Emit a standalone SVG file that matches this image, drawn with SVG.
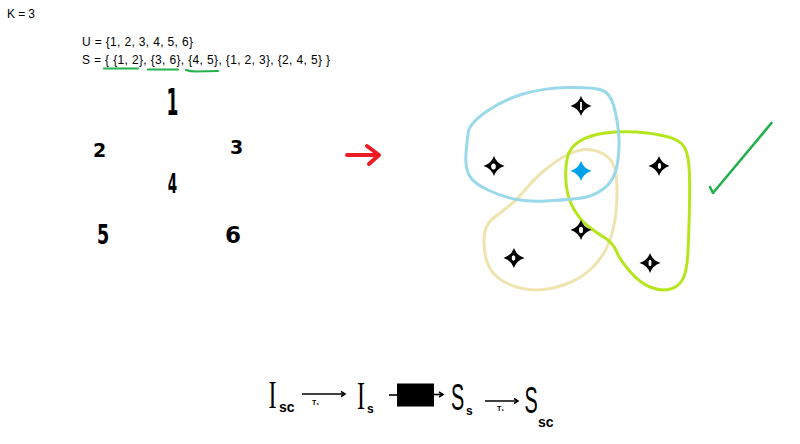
<svg xmlns="http://www.w3.org/2000/svg" xmlns:xlink="http://www.w3.org/1999/xlink" width="800" height="444" viewBox="0 0 800 444">
<style>
.t{font-family:"Liberation Sans",Arial,sans-serif;font-size:12px;fill:#000}
.hd{font-family:"DejaVu Sans",sans-serif;font-weight:bold;fill:#000;text-anchor:middle}
.ul{stroke:#22B14C;stroke-width:2.2;fill:none;stroke-linecap:round}
.loop{fill:none;stroke-width:3;stroke-linejoin:round}
.ln{stroke:#000;stroke-width:1.6;fill:none}
.sub{font-family:"Liberation Sans",Arial,sans-serif;font-weight:bold;fill:#000}
.big{font-family:"Liberation Serif","Times New Roman",serif;fill:#000;text-anchor:middle}
.ss{font-family:"Liberation Sans",Arial,sans-serif;fill:#000;text-anchor:middle}
.tl{font-family:"Liberation Sans",Arial,sans-serif;font-weight:bold;font-size:7px;fill:#000}
</style>
<defs>
<g id="star">
<path d="M0,-10 Q2.5,-2.5 10.5,0 Q2.5,2.5 0,10 Q-2.5,2.5 -10.5,0 Q-2.5,-2.5 0,-10 Z"/>
<circle r="5.2"/>
</g>
<marker id="ah" markerWidth="8" markerHeight="8" refX="6" refY="4" orient="auto" markerUnits="userSpaceOnUse">
<path d="M2,1.5 L6,4 L2,6.5" fill="none" stroke="#000" stroke-width="1.5"/>
</marker>
</defs>
<rect width="800" height="444" fill="#fff"/>

<g id="header">
<text class="t" x="7" y="18" textLength="28">K = 3</text>
<text class="t" x="82" y="46" textLength="111">U = {1, 2, 3, 4, 5, 6}</text>
<text class="t" x="82" y="64" textLength="248">S = { {1, 2}, {3, 6}, {4, 5}, {1, 2, 3}, {2, 4, 5} }</text>
<path class="ul" d="M104,68.5 L138,68.5"/>
<path class="ul" d="M148,69.5 L178,69.5"/>
<path class="ul" d="M186,70 Q190,71.5 196,71.5 L218,71"/>
</g>

<g id="digits">
<text class="hd" font-size="38" transform="translate(172.5,115) scale(0.45,1)">1</text>
<text class="hd" font-size="19" x="99.5" y="157">2</text>
<text class="hd" font-size="19" x="236.5" y="154">3</text>
<text class="hd" font-size="27" transform="translate(172.5,193) scale(0.5,1)">4</text>
<text class="hd" font-size="27" transform="translate(103,244) scale(0.65,1)">5</text>
<text class="hd" font-size="23" x="233" y="243">6</text>
</g>

<g id="connectors">
<path d="M347,155 L379,155 M367,146 L379,155 L369,164" fill="none" stroke="#ED1C24" stroke-width="4" stroke-linecap="round" stroke-linejoin="round"/>
<path d="M710,187 L713,193 L771.5,123" fill="none" stroke="#22B14C" stroke-width="2.6" stroke-linecap="round" stroke-linejoin="round"/>
<line class="ln" x1="302" y1="394" x2="345" y2="394" marker-end="url(#ah)"/>
<line class="ln" x1="389" y1="395" x2="397" y2="395"/>
<line class="ln" x1="434" y1="394.5" x2="443" y2="394.5" marker-end="url(#ah)"/>
<line class="ln" x1="485" y1="401" x2="518" y2="401" marker-end="url(#ah)"/>
</g>

<g id="sets">
<path id="set-beige" class="loop" stroke="#EFE4B0" d="M601.5,153 Q610,157 613.5,165 Q617,173 617,190 Q617,207 615,220 Q613,233 608,245 Q603,257 593,267 Q583,277 570,282.5 Q557,288 543.5,289.5 Q530,291 516.5,287 Q503,283 495,275 Q487,267 485,253.5 Q483,240 485,231.5 Q487,223 493.5,218 Q500,213 508.5,206.5 Q517,200 525,190 Q533,180 545,170 Q557,160 567,155 Q577,150 585,149.5 Q593,149 601.5,153 Z"/>
<path id="set-green" class="loop" stroke="#B5E61D" d="M580,141 Q590,135 605,133 Q620,131 636.5,132 Q653,133 666.5,136.5 Q680,140 684,146.5 Q688,153 689,166.5 Q690,180 689.5,205 Q689,230 688,251.5 Q687,273 682,280.5 Q677,288 668.5,289.5 Q660,291 650,287 Q640,283 630,271.5 Q620,260 616.5,251.5 Q613,243 605,238 Q597,233 588.5,226.5 Q580,220 573.5,208.5 Q567,197 566,182 Q565,167 567.5,157 Q570,147 580,141 Z"/>
<path id="set-blue" class="loop" stroke="#99D9EA" d="M486.5,111.5 Q503,100 523,94 Q543,88 568,87.5 Q593,87 601.5,90 Q610,93 613.5,105 Q617,117 618.5,132 Q620,147 617.5,163.5 Q615,180 604,188.5 Q593,197 578,198.5 Q563,200 546.5,201 Q530,202 516.5,199.5 Q503,197 488,190 Q473,183 469,175 Q465,167 466,153.5 Q467,140 468.5,131.5 Q470,123 486.5,111.5 Z"/>
</g>

<g id="node-1" transform="translate(581,106)"><use xlink:href="#star" fill="#000"/><rect x="-0.9" y="-4" width="1.8" height="8" fill="#fff"/></g>
<g id="node-2" transform="translate(494,166)"><use xlink:href="#star" fill="#000"/><ellipse cx="-0.5" cy="0.5" rx="2.3" ry="3" fill="#fff"/></g>
<g id="node-center" transform="translate(581,171)"><use xlink:href="#star" fill="#00A2E8"/></g>
<g id="node-3" transform="translate(659,166)"><use xlink:href="#star" fill="#000"/><ellipse cx="0.5" cy="0" rx="1.6" ry="3" fill="#fff"/></g>
<g id="node-4" transform="translate(581,230)"><use xlink:href="#star" fill="#000"/><ellipse cx="0" cy="0" rx="2" ry="3.2" fill="#fff"/></g>
<g id="node-5" transform="translate(514,258)"><use xlink:href="#star" fill="#000"/><ellipse cx="-0.5" cy="0" rx="1.8" ry="2.8" fill="#fff"/></g>
<g id="node-6" transform="translate(650,263)"><use xlink:href="#star" fill="#000"/><ellipse cx="0" cy="0" rx="1.5" ry="3.2" fill="#fff"/></g>

<g id="formula">
<text class="big" font-size="40" transform="translate(272.5,408) scale(0.6,1)">I</text>
<text class="sub" font-size="14" x="279" y="412">sc</text>
<text class="tl" x="312" y="405">T₁</text>
<text class="big" font-size="40" transform="translate(361,409) scale(0.6,1)">I</text>
<text class="sub" font-size="12" x="367" y="413">s</text>
<rect x="397" y="383.5" width="37" height="23" fill="#000"/>
<text class="ss" font-size="36" transform="translate(457.5,410) scale(0.55,1)">S</text>
<text class="sub" font-size="12" x="466" y="415">s</text>
<text class="tl" x="497" y="411">T₁</text>
<text class="ss" font-size="36" transform="translate(531,413) scale(0.55,1)">S</text>
<text class="sub" font-size="14" x="538" y="427">sc</text>
</g>
</svg>
